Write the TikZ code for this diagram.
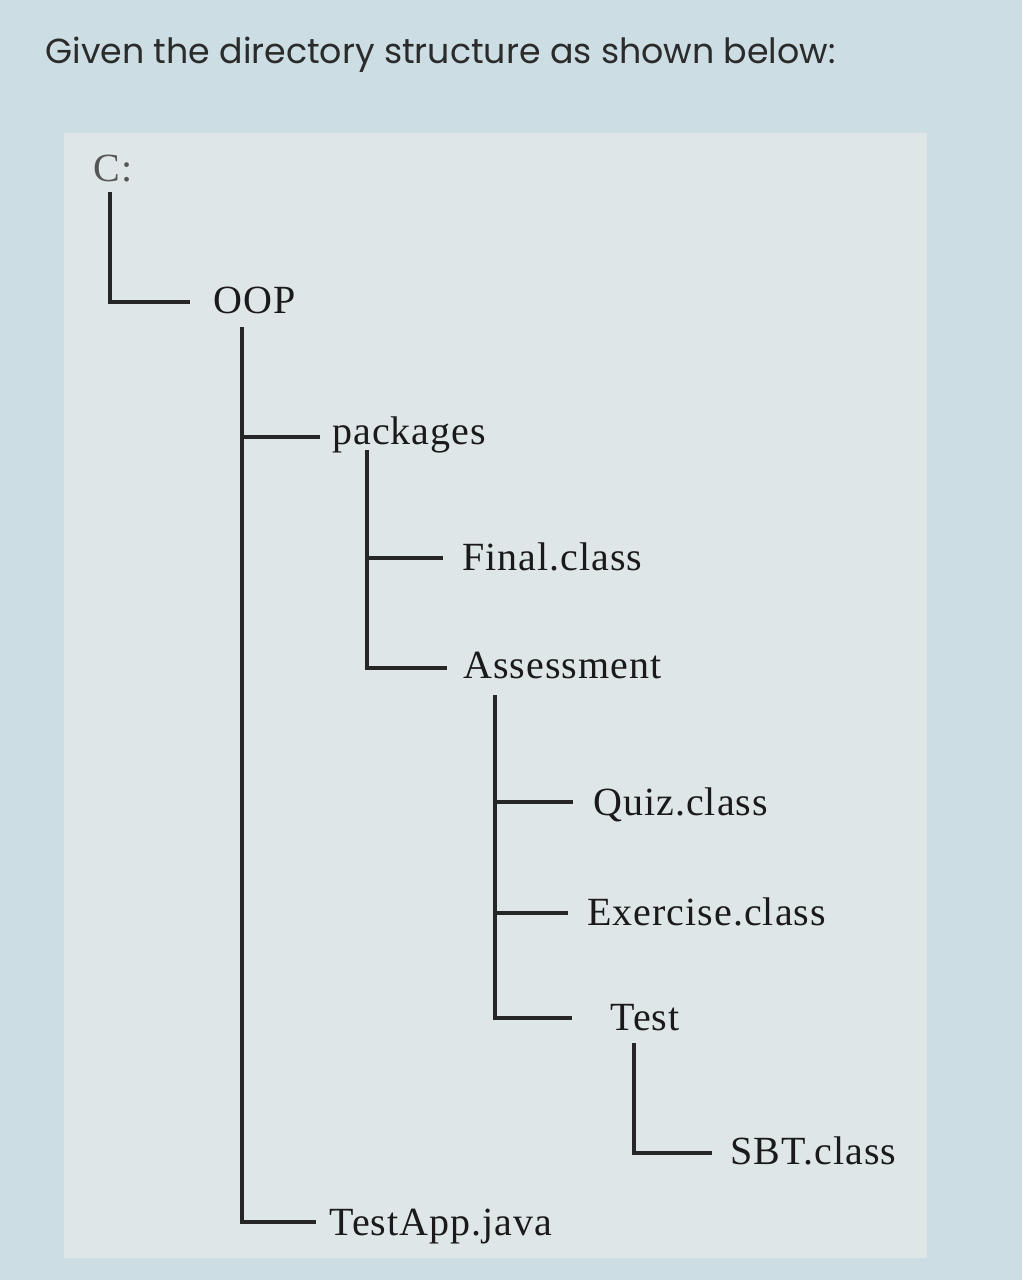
\documentclass[tikz,border=0pt]{standalone}
\usepackage{fontspec}
\setmainfont[LetterSpace=2.5]{Liberation Serif}
\newfontfamily\titlefont{Poppins}
\definecolor{outerbg}{HTML}{CCDDE3}
\definecolor{innerbg}{HTML}{DFE6E8}
\definecolor{linecol}{HTML}{262626}
\definecolor{textcol}{HTML}{1A1A1A}
\definecolor{titlecol}{HTML}{2B2B2B}
\definecolor{dimcol}{HTML}{555555}
\tikzset{
  entry/.style={anchor=base west, inner sep=0pt, text=textcol, font=\fontsize{20}{24}\selectfont},
  conn/.style={draw=linecol, line width=1.6pt},
}
\begin{document}
\begin{tikzpicture}[x=0.5pt,y=-0.5pt]
\useasboundingbox (0,0) rectangle (1022,1280);
\fill[outerbg] (0,0) rectangle (1022,1280);
\fill[innerbg] (64,133) rectangle (927,1258);
\node[anchor=base west, inner sep=0pt, text=titlecol, font=\titlefont\fontsize{17.4}{20}\selectfont] (title) at (45,63) {Given the directory structure as shown below:};
% entries
\node[entry, text=dimcol] (C) at (93,181) {C:};
\node[entry] (oop) at (213,313) {OOP};
\node[entry] (pkg) at (332,444) {packages};
\node[entry] (final) at (462,570) {Final.class};
\node[entry] (assess) at (463,678) {Assessment};
\node[entry] (quiz) at (593,815) {Quiz.class};
\node[entry] (exer) at (587,925) {Exercise.class};
\node[entry] (test) at (610,1030) {Test};
\node[entry] (sbt) at (730,1164) {SBT.class};
\node[entry] (app) at (329,1235) {TestApp.java};
% junction coordinates
\coordinate (cTop) at (110,192);
\coordinate (cEnd) at (190,302);
\coordinate (oTop) at (242,327);
\coordinate (oPkg) at (320,437);
\coordinate (oApp) at (316,1222);
\coordinate (pTop) at (367,450);
\coordinate (pFin) at (443,558);
\coordinate (pAss) at (447,668);
\coordinate (aTop) at (495,695);
\coordinate (aQuiz) at (573,802);
\coordinate (aExer) at (568,913);
\coordinate (aTest) at (572,1018);
\coordinate (tTop) at (634,1043);
\coordinate (tSbt) at (712,1153);
% connectors
\draw[conn] (cTop) |- (cEnd);
\draw[conn] (oTop) |- (oApp);
\draw[conn] (oTop |- oPkg) -- (oPkg);
\draw[conn] (pTop) |- (pAss);
\draw[conn] (pTop |- pFin) -- (pFin);
\draw[conn] (aTop) |- (aTest);
\draw[conn] (aTop |- aQuiz) -- (aQuiz);
\draw[conn] (aTop |- aExer) -- (aExer);
\draw[conn] (tTop) |- (tSbt);
\end{tikzpicture}
\end{document}
